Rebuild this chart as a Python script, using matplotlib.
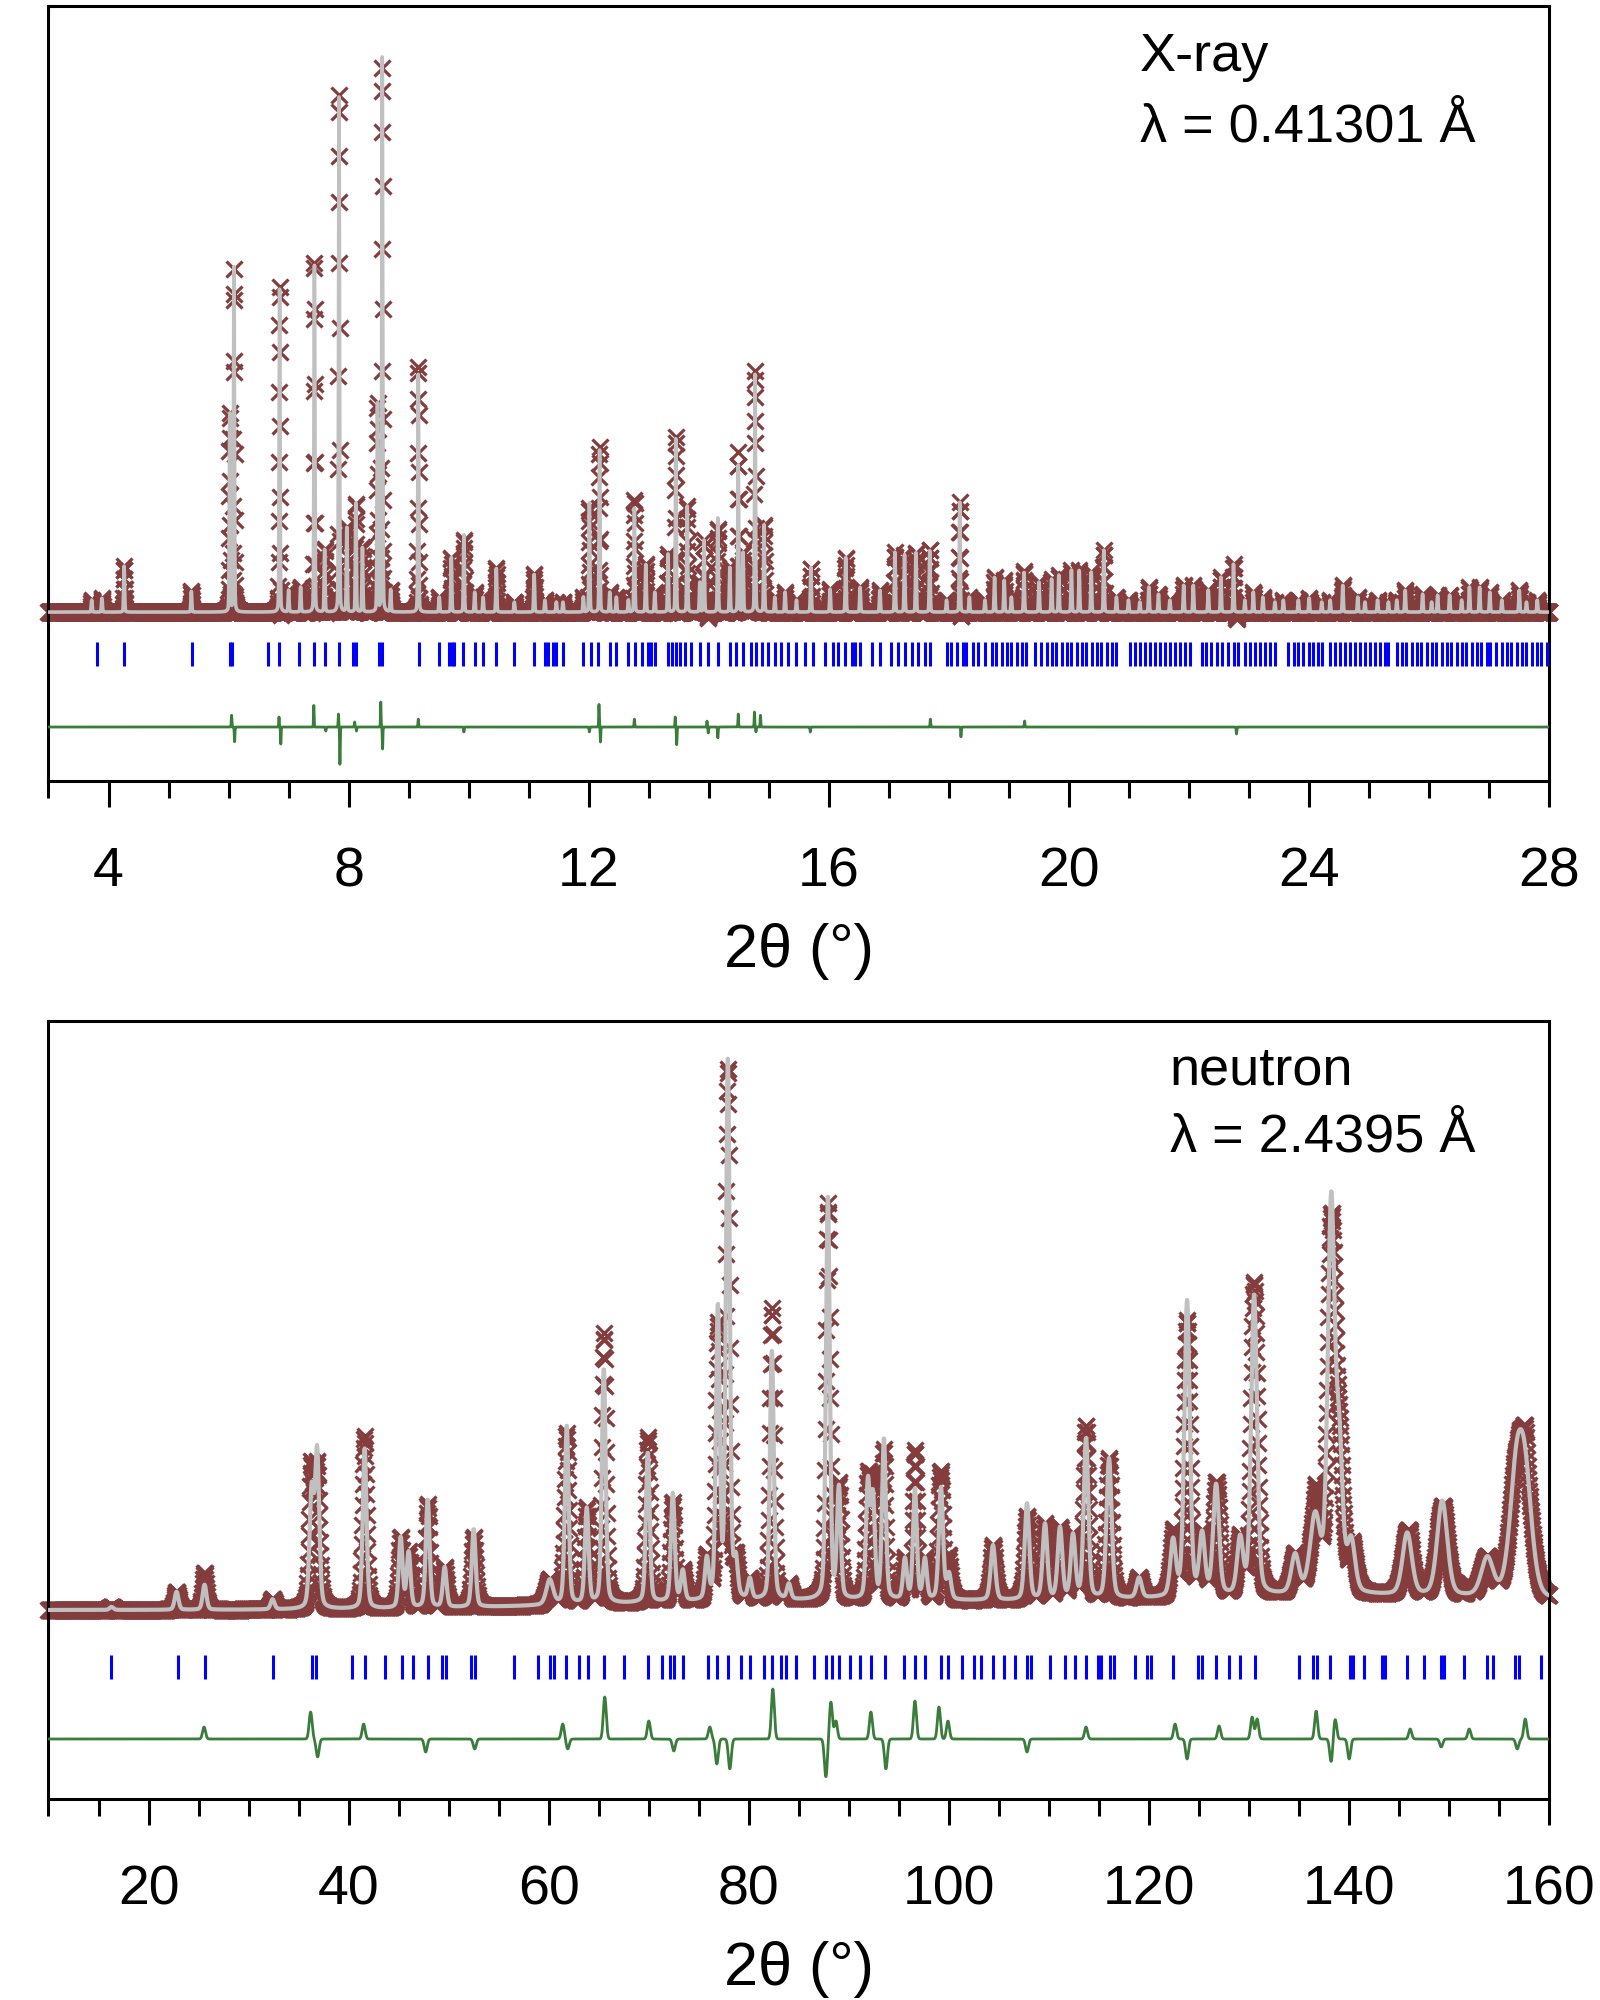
""" Rietveld plots: X-ray (top) and neutron (bottom) powder patterns """
import numpy as np
import matplotlib
matplotlib.use("Agg")
from matplotlib import pyplot as plt
from matplotlib.ticker import MultipleLocator

plt.rcParams['font.family'] = ['Liberation Sans', 'DejaVu Sans']

# ---------------- X-ray data (2theta in deg, intensities in plot units) ----------------
xray_range = [3.0, 28.0]
xray_step = 0.003
xray_fwhm = 0.018
xray_peak_pos = [
    3.72, 3.89, 4.26, 5.38, 6.02, 6.09, 6.85, 7.00, 7.20, 7.43,
    7.60, 7.84, 7.97, 8.12, 8.23, 8.48, 8.56, 8.70, 9.16, 9.51,
    9.71, 9.92, 10.10, 10.24, 10.46, 10.76, 11.09, 11.27, 11.46, 11.57,
    11.91, 12.01, 12.18, 12.35, 12.46, 12.66, 12.76, 12.95, 13.10, 13.32,
    13.45, 13.64, 13.85, 13.92, 14.15, 14.35, 14.49, 14.57, 14.77, 14.92,
    15.10, 15.27, 15.46, 15.70, 16.02, 16.28, 16.52, 16.85, 17.10, 17.26,
    17.45, 17.68, 17.96, 18.18, 18.34, 18.60, 18.76, 18.92, 19.04, 19.25,
    19.50, 19.71, 19.83, 20.04, 20.17, 20.37, 20.58, 20.79, 20.99, 21.18,
    21.33, 21.49, 21.68, 21.91, 22.07, 22.32, 22.53, 22.74, 22.93, 23.07,
    23.23, 23.43, 23.57, 23.82, 24.00, 24.21, 24.35, 24.56, 24.81, 24.93,
    25.14, 25.32, 25.46, 25.60, 25.89, 26.04, 26.14, 26.34, 26.54, 26.67,
    26.84, 27.01, 27.21, 27.50, 27.62, 27.80,
]
xray_peak_height = [
    12, 14, 46, 21, 200, 345, 326, 22, 25, 350,
    63, 520, 85, 110, 65, 210, 560, 22, 240, 15,
    55, 78, 20, 15, 44, 10, 38, 12, 10, 10,
    15, 110, 162, 20, 15, 12, 105, 48, 20, 58,
    175, 107, 30, 72, 95, 45, 147, 60, 240, 88,
    15, 20, 12, 45, 23, 55, 25, 22, 60, 58,
    60, 62, 12, 110, 15, 12, 35, 32, 15, 40,
    30, 33, 37, 42, 42, 40, 62, 15, 12, 10,
    25, 18, 12, 27, 27, 22, 35, 48, 12, 20,
    15, 10, 12, 12, 14, 10, 12, 27, 15, 10,
    12, 10, 12, 22, 18, 10, 17, 17, 12, 25,
    25, 20, 12, 22, 10, 12,
]
# misfit features (observed - calculated)
xray_diff_fwhm = 0.012
xray_diff_pos = [
    6.05, 6.10, 6.84, 6.87, 7.42, 7.62, 7.83, 7.855, 8.10, 8.13,
    8.535, 8.565, 9.16, 9.92, 12.01, 12.17, 12.195, 12.76, 13.44, 13.465,
    13.97, 13.99, 14.15, 14.49, 14.76, 14.785, 14.86, 15.69, 17.69, 18.20,
    19.26, 22.79,
]
xray_diff_amp = [
    12, -15, 10, -17, 22, -4, 13, -38, 5, -4,
    25, -22, 8, -5, -5, 23, -15, 8, 10, -18,
    6, -6, -11, 13, 15, -5, 12, -5, 8, -10,
    6, -7,
]
# reflection positions
xray_reflections = [
    3.81, 4.26, 5.39, 6.02, 6.06, 6.66, 6.84, 7.17, 7.42, 7.60,
    7.84, 8.07, 8.13, 8.50, 8.56, 9.17, 9.51, 9.68, 9.72, 9.76,
    9.91, 10.10, 10.24, 10.45, 10.76, 11.08, 11.27, 11.32, 11.41, 11.46,
    11.57, 11.91, 12.04, 12.16, 12.35, 12.46, 12.66, 12.77, 12.88, 12.99,
    13.04, 13.10, 13.32, 13.39, 13.45, 13.52, 13.60, 13.71, 13.85, 13.99,
    14.15, 14.35, 14.46, 14.57, 14.71, 14.79, 14.88, 14.99, 15.10, 15.21,
    15.32, 15.46, 15.60, 15.74, 15.93, 16.07, 16.15, 16.26, 16.38, 16.44,
    16.52, 16.71, 16.85, 17.04, 17.15, 17.26, 17.38, 17.49, 17.60, 17.68,
    17.96, 18.04, 18.13, 18.24, 18.29, 18.40, 18.49, 18.60, 18.71, 18.79,
    18.88, 18.96, 19.04, 19.13, 19.21, 19.29, 19.43, 19.54, 19.63, 19.71,
    19.79, 19.88, 19.96, 20.04, 20.13, 20.21, 20.29, 20.38, 20.46, 20.54,
    20.63, 20.71, 20.79, 21.01, 21.10, 21.18, 21.26, 21.35, 21.43, 21.51,
    21.60, 21.68, 21.76, 21.85, 21.93, 22.01, 22.21, 22.29, 22.37, 22.46,
    22.54, 22.65, 22.74, 22.82, 22.93, 23.01, 23.10, 23.18, 23.26, 23.35,
    23.43, 23.65, 23.74, 23.82, 23.90, 23.99, 24.07, 24.15, 24.21, 24.35,
    24.43, 24.51, 24.60, 24.68, 24.76, 24.85, 24.93, 25.01, 25.10, 25.18,
    25.26, 25.32, 25.46, 25.54, 25.62, 25.71, 25.79, 25.87, 25.96, 26.04,
    26.12, 26.21, 26.29, 26.37, 26.46, 26.54, 26.62, 26.71, 26.79, 26.87,
    26.96, 27.01, 27.12, 27.21, 27.29, 27.37, 27.46, 27.54, 27.62, 27.71,
    27.79, 27.87, 27.96,
]

# ---------------- neutron data ----------------
neutron_range = [10.0, 160.0]
neutron_step = 0.04
neutron_peak_pos = [
    16.3, 22.8, 25.6, 32.4, 36.3, 36.85, 41.6, 45.2, 46.0, 47.9,
    49.6, 52.5, 60.1, 61.8, 63.8, 65.5, 69.9, 72.4, 73.4, 75.8,
    76.9, 77.9, 78.7, 80.1, 82.3, 84.0, 87.9, 89.0, 91.9, 92.4,
    93.5, 95.6, 96.6, 97.6, 99.2, 100.0, 104.4, 107.8, 109.6, 111.1,
    112.4, 113.7, 116.0, 119.0, 122.4, 123.8, 125.3, 126.7, 129.1, 130.5,
    134.6, 136.6, 138.2, 139.0, 140.2, 145.8, 149.3, 153.8, 156.7, 157.6,
]
neutron_peak_height = [
    3, 18, 25, 10, 115, 155, 160, 70, 55, 108,
    40, 78, 25, 178, 95, 235, 150, 108, 30, 40,
    290, 540, 35, 20, 250, 15, 404, 110, 115, 100,
    160, 40, 110, 40, 112, 25, 55, 96, 75, 71,
    63, 160, 140, 20, 55, 295, 60, 110, 55, 300,
    38, 75, 385, 140, 50, 62, 95, 38, 110, 105,
]
neutron_peak_fwhm = [
    0.45, 0.45, 0.45, 0.45, 0.5, 0.5, 0.45, 0.45, 0.45, 0.45,
    0.45, 0.45, 0.8, 0.45, 0.45, 0.45, 0.45, 0.45, 0.45, 0.45,
    0.45, 0.45, 0.45, 0.45, 0.45, 0.45, 0.45, 0.45, 0.45, 0.45,
    0.45, 0.45, 0.45, 0.45, 0.5, 0.5, 0.55, 0.55, 0.55, 0.55,
    0.55, 0.55, 0.6, 0.6, 0.65, 0.65, 0.65, 0.7, 0.7, 0.7,
    0.9, 1.2, 0.8, 0.8, 0.9, 1.1, 1.2, 1.4, 1.6, 1.6,
]
# broad background humps
neutron_bg_pos = [85.0, 140.0]
neutron_bg_amp = [9.0, 14.0]
neutron_bg_fwhm = [50.0, 50.0]
neutron_diff_fwhm = 0.35
neutron_diff_pos = [
    25.55, 36.2, 36.9, 41.5, 47.7, 52.6, 61.4, 61.9, 65.6, 70.0,
    72.5, 76.1, 76.8, 78.1, 82.4, 87.7, 88.2, 88.7, 92.2, 93.7,
    96.6, 99.0, 99.9, 107.8, 113.7, 122.6, 123.8, 127.0, 130.3, 130.8,
    136.7, 138.2, 138.6, 140.0, 146.1, 149.2, 152.0, 156.8, 157.6,
]
neutron_diff_amp = [
    12, 27, -18, 15, -13, -10, 15, -10, 42, 18,
    -12, 12, -25, -30, 50, -38, 37, 18, 27, -30,
    38, 32, 18, -13, 12, 15, -20, 13, 22, 20,
    28, -23, 20, -20, 10, -8, 10, -10, 20,
]
neutron_reflections = [
    16.27, 22.90, 25.66, 32.44, 36.37, 36.77, 40.34, 41.62, 43.66, 45.29,
    46.47, 47.90, 49.32, 49.73, 52.18, 52.59, 56.57, 58.97, 60.14, 60.54,
    61.77, 63.04, 63.97, 65.49, 67.53, 69.93, 71.35, 72.07, 72.48, 73.40,
    75.95, 76.81, 77.93, 79.26, 80.13, 81.56, 82.33, 83.24, 83.70, 84.72,
    86.56, 87.68, 88.29, 88.96, 90.08, 91.15, 92.17, 93.65, 95.49, 96.61,
    97.63, 99.16, 99.93, 101.35, 102.48, 103.24, 104.42, 105.54, 106.56, 107.83,
    108.19, 110.13, 111.56, 112.58, 113.70, 114.87, 115.23, 116.10, 116.46, 118.55,
    119.82, 120.18, 122.37, 124.93, 125.33, 126.71, 127.99, 129.11, 130.54, 135.03,
    136.40, 136.76, 138.09, 140.08, 140.39, 141.51, 143.29, 143.55, 145.74, 147.48,
    149.16, 149.47, 151.46, 153.75, 154.36, 156.56, 156.97, 159.21,
]

# ---------------- styles / layout ----------------
OBS_COLOR = "#843c3c"
CALC_COLOR = "#c0c0c0"
TICK_COLOR = "#0000ff"
DIFF_COLOR = "#3a7d3a"


def peak_sum(x, pos, height, fwhm, eta=0.25):
    """ sum of pseudo-Voigt peaks """
    y = np.zeros_like(x)
    fwhm = np.broadcast_to(np.asarray(fwhm, dtype=float), (len(pos),))
    for p, h, w in zip(pos, height, fwhm):
        d = (x - p) / w
        g = np.exp(-4.0 * np.log(2.0) * d ** 2)
        lor = 1.0 / (1.0 + 4.0 * d ** 2)
        y += h * ((1.0 - eta) * g + eta * lor)
    return y


def gauss_sum(x, pos, amp, fwhm):
    """ sum of gaussian features """
    y = np.zeros_like(x)
    fwhm = np.broadcast_to(np.asarray(fwhm, dtype=float), (len(pos),))
    for p, a, w in zip(pos, amp, fwhm):
        y += a * np.exp(-4.0 * np.log(2.0) * ((x - p) / w) ** 2)
    return y


def draw_panel(ax, x, calc, obs, refl, base, tick_lo, tick_hi, diff_base, ymax,
               xlim, major, minor, ms, mew, calc_lw, diff_lw):
    ax.plot(x, base + obs, ls="none", marker="x", ms=ms, mew=mew,
            color=OBS_COLOR, clip_on=False, zorder=2)
    ax.plot(x, base + calc, color=CALC_COLOR, lw=calc_lw, zorder=3)
    ax.vlines(refl, tick_lo, tick_hi, color=TICK_COLOR, lw=2.2, zorder=3)
    ax.plot(x, diff_base + obs - calc, color=DIFF_COLOR, lw=diff_lw, zorder=3)

    ax.set_xlim(xlim)
    ax.set_ylim(0, ymax)
    ax.set_yticks([])
    ax.xaxis.set_major_locator(MultipleLocator(major))
    ax.xaxis.set_minor_locator(MultipleLocator(minor))
    ax.tick_params(axis="x", which="major", direction="out", length=19, width=2.2,
                   labelsize=40, pad=28)
    ax.tick_params(axis="x", which="minor", direction="out", length=12, width=2.2)
    for s in ax.spines.values():
        s.set_linewidth(2.2)
    ax.set_xlabel("2θ (°)", fontsize=44, labelpad=18)


fig = plt.figure(figsize=(16, 20), dpi=100)

# X-ray panel
ax1 = fig.add_axes([0.0303, 0.6095, 0.938, 0.3873])
x1 = np.arange(xray_range[0], xray_range[1] + 1e-9, xray_step)
calc1 = peak_sum(x1, xray_peak_pos, xray_peak_height, xray_fwhm, eta=0.2)
obs1 = calc1 + gauss_sum(x1, xray_diff_pos, xray_diff_amp, xray_diff_fwhm)
draw_panel(ax1, x1, calc1, obs1, xray_reflections, base=169, tick_lo=115, tick_hi=139,
           diff_base=54, ymax=775, xlim=xray_range, major=4, minor=1,
           ms=11, mew=2.3, calc_lw=2.6, diff_lw=2.0)
ax1.text(0.727, 0.916, "X-ray", transform=ax1.transAxes, fontsize=39,
         ha="left", va="baseline")
ax1.text(0.727, 0.826, "λ = 0.41301 Å", transform=ax1.transAxes, fontsize=39,
         ha="left", va="baseline")

# neutron panel
ax2 = fig.add_axes([0.0303, 0.1005, 0.938, 0.389])
x2 = np.arange(neutron_range[0], neutron_range[1] + 1e-9, neutron_step)
calc2 = peak_sum(x2, neutron_peak_pos, neutron_peak_height, neutron_peak_fwhm, eta=0.3)
calc2 += gauss_sum(x2, neutron_bg_pos, neutron_bg_amp, neutron_bg_fwhm)
obs2 = calc2 + gauss_sum(x2, neutron_diff_pos, neutron_diff_amp, neutron_diff_fwhm)
draw_panel(ax2, x2, calc2, obs2, neutron_reflections, base=189, tick_lo=120, tick_hi=144,
           diff_base=60, ymax=778, xlim=neutron_range, major=20, minor=5,
           ms=11, mew=2.3, calc_lw=3.0, diff_lw=2.0)
ax2.text(0.747, 0.918, "neutron", transform=ax2.transAxes, fontsize=39,
         ha="left", va="baseline")
ax2.text(0.747, 0.832, "λ = 2.4395 Å", transform=ax2.transAxes, fontsize=39,
         ha="left", va="baseline")

fig.savefig("out.png", dpi=100)
